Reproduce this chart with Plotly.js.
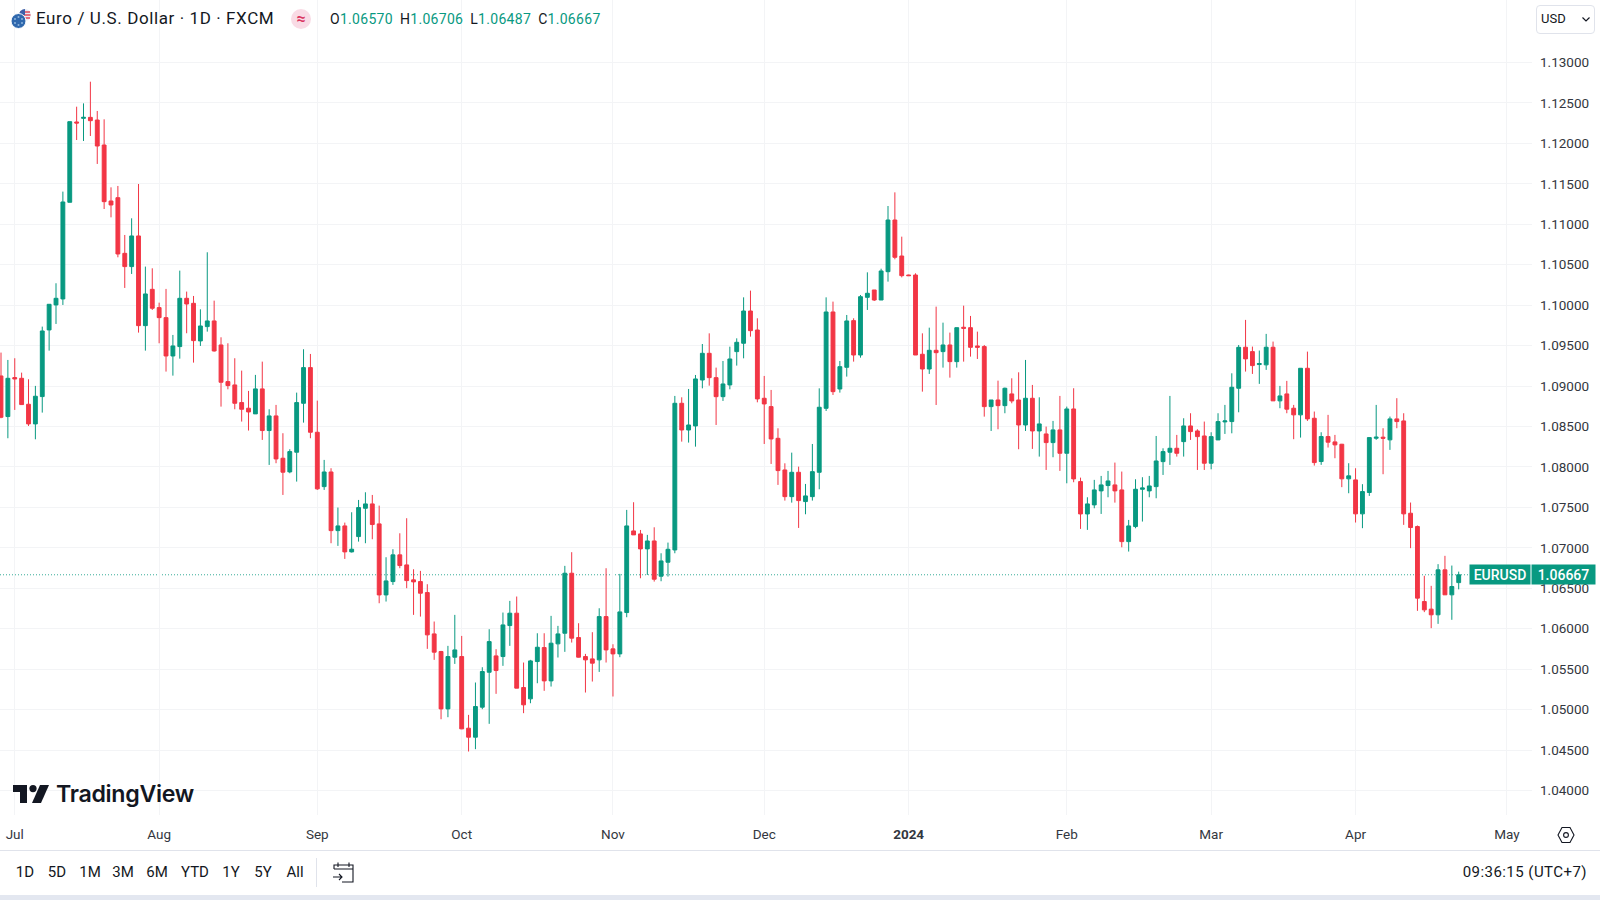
<!DOCTYPE html>
<html>
<head>
<meta charset="utf-8">
<title>Euro / U.S. Dollar</title>
<script src="https://cdn.plot.ly/plotly-3.0.1.min.js"></script>
<style>
    html, body { margin: 0; padding: 0; background: #fff; width: 1600px; height: 900px; overflow: hidden; }
    body { font-family: Roboto, sans-serif; color: #131722; position: relative; }
    #chart { position: absolute; left: 0; top: 0; width: 1600px; height: 900px; }
    .overlay { position: absolute; white-space: nowrap; line-height: 1; }
    .ohlc { letter-spacing: .3px; }
    .ohlc span { color: #089981; margin-right: 7px; }
    .range-btn { position: absolute; top: 865px; font-size: 15px; color: #131722; line-height: 1; transform: translateX(-50%); }
</style>
</head>
<body>
<div id="chart"></div>

<!-- legend row -->
<svg class="overlay" style="left:9px;top:8px" width="24" height="22" viewBox="0 0 24 22">
    <circle cx="16" cy="7" r="6" fill="#e8eaf2"/>
    <path d="M11 4h10M10.5 7h11M11 10h10" stroke="#e0475a" stroke-width="1.4"/>
    <path d="M10 7a6 6 0 0 1 6-6v6z" fill="#3c5fa8"/>
    <circle cx="9.5" cy="13" r="7.5" fill="#2f68ad" stroke="#fff" stroke-width="1"/>
    <g fill="#8fb4dd"><circle cx="9.5" cy="9" r="1"/><circle cx="13" cy="11" r="1"/><circle cx="13" cy="15" r="1"/><circle cx="9.5" cy="17" r="1"/><circle cx="6" cy="15" r="1"/><circle cx="6" cy="11" r="1"/></g>
</svg>
<div class="overlay" style="left:36px;top:10px;font-size:17px;letter-spacing:.6px">Euro / U.S. Dollar · 1D · FXCM</div>
<div class="overlay" style="left:291px;top:9px;width:20px;height:20px;border-radius:10px;background:#f9dbe5;color:#d9345f;font-size:16px;font-weight:700;text-align:center;line-height:19px">≈</div>
<div class="overlay ohlc" style="left:330px;top:12px;font-size:14px">O<span>1.06570</span>H<span>1.06706</span>L<span>1.06487</span>C<span style="margin:0">1.06667</span></div>

<!-- currency dropdown -->
<div class="overlay" style="left:1536px;top:5px;width:57px;height:27px;border:1px solid #e0e3eb;border-radius:4px;background:#fff"></div>
<div class="overlay" style="left:1541px;top:12px;font-size:13px">USD</div>
<svg class="overlay" style="left:1581px;top:16px" width="10" height="7" viewBox="0 0 10 7"><path d="M1.5 1.5L5 5l3.5-3.5" fill="none" stroke="#131722" stroke-width="1.2"/></svg>

<!-- watermark -->
<svg class="overlay" style="left:13px;top:785px" width="36" height="18" viewBox="0 0 36 18">
    <path d="M0 0h14v18H7V7H0z" fill="#131722"/>
    <circle cx="20" cy="3.6" r="3.6" fill="#131722"/>
    <path d="M27 0h9l-8 18h-9z" fill="#131722"/>
</svg>
<div class="overlay" style="left:56px;top:783px;font-family:Inter,sans-serif;font-weight:600;font-size:23.2px;letter-spacing:-.3px">TradingView</div>

<!-- axis settings gear -->
<svg class="overlay" style="left:1556px;top:825px" width="20" height="20" viewBox="0 0 20 20">
    <path d="M6 2.5h8l4 7.5-4 7.5H6L2 10z" fill="none" stroke="#131722" stroke-width="1.1"/>
    <circle cx="10" cy="10" r="2.4" fill="none" stroke="#131722" stroke-width="1.1"/>
</svg>

<!-- bottom toolbar -->
<div class="overlay" style="left:0;top:850px;width:1600px;height:45px;background:#fff;border-top:1px solid #e0e3eb;box-sizing:border-box"></div>
<div class="overlay" style="left:0;top:895px;width:1600px;height:5px;background:#e3e7f0"></div>
<div id="rangeBar"></div>
<div class="overlay" style="left:316px;top:858px;width:1px;height:29px;background:#e0e3eb"></div>
<svg class="overlay" style="left:332px;top:861px" width="23" height="23" viewBox="0 0 23 23">
    <path d="M2 8V4h19v17h-11M2 8h19M6 1.5V6M17 1.5V6M1 16h9M7 13l3 3-3 3" fill="none" stroke="#131722" stroke-width="1.1"/>
</svg>
<div class="overlay" style="right:13px;top:865px;font-size:15px;letter-spacing:.45px">09:36:15 (UTC+7)</div>

<script>
// EUR/USD daily sessions
const opens = [
    1.09125,1.08623,1.09105,1.09096,1.08775,1.08532,1.0887,1.09694,1.10003,1.10077,
    1.11272,1.12265,1.1231,1.12322,1.12289,1.1198,1.11288,1.11329,1.10641,1.10477,
    1.10856,1.09747,1.10196,1.0997,1.09846,1.09372,1.09488,1.10085,1.10023,1.09558,
    1.09735,1.09805,1.09508,1.09055,1.09014,1.08796,1.08726,1.08656,1.08965,1.0845,
    1.08631,1.08108,1.07939,1.08182,1.08787,1.09228,1.08429,1.07757,1.07938,1.07213,
    1.07271,1.0695,1.07139,1.07489,1.07543,1.07296,1.06418,1.06583,1.06913,1.06789,
    1.06604,1.06583,1.06447,1.05936,1.05718,1.05009,1.05648,1.05656,1.0477,1.04659,
    1.0503,1.05462,1.05664,1.05656,1.06039,1.06192,1.05273,1.05133,1.05594,1.05767,
    1.05355,1.05813,1.05944,1.06686,1.05891,1.05656,1.05627,1.05615,1.0615,1.05751,
    1.05689,1.062,1.07209,1.07172,1.06987,1.07085,1.06649,1.06822,1.06974,1.08787,
    1.08457,1.08507,1.09075,1.09405,1.09104,1.08869,1.09014,1.09426,1.09529,1.09928,
    1.09693,1.08849,1.08746,1.08354,1.07963,1.07633,1.07934,1.07572,1.07633,1.07934,
    1.08725,1.09916,1.08964,1.09232,1.09809,1.09384,1.10097,1.10188,1.10064,1.10414,
    1.11053,1.10608,1.10373,1.10373,1.09393,1.09211,1.09442,1.09426,1.09508,1.09302,
    1.09727,1.09722,1.09496,1.09488,1.08746,1.08828,1.08758,1.08903,1.08828,1.08519,
    1.08849,1.08445,1.08408,1.08301,1.08458,1.08169,1.08717,1.07819,1.07419,1.07531,
    1.07704,1.0777,1.07778,1.07716,1.07077,1.07263,1.07724,1.07704,1.07757,1.08066,
    1.08182,1.08231,1.08313,1.08507,1.08445,1.08383,1.08046,1.08334,1.08557,1.08561,
    1.08973,1.0948,1.09426,1.09266,1.09262,1.0948,1.08817,1.08903,1.08726,1.08644,
    1.0922,1.08602,1.08067,1.08376,1.0831,1.08281,1.07853,1.0784,1.0742,1.07684,
    1.08355,1.08368,1.08335,1.08594,1.08569,1.07428,1.07263,1.06336,1.06242,1.06172,
    1.06728,1.06419,1.0657
];
const highs = [
    1.09414,1.09323,1.09344,1.09166,1.09084,1.09002,1.09735,1.10011,1.10271,1.11404,
    1.12269,1.12454,1.12495,1.12763,1.12401,1.12298,1.11457,1.11474,1.10868,1.11074,
    1.11498,1.10477,1.10456,1.10031,1.10201,1.09632,1.10427,1.10168,1.10114,1.09949,
    1.10654,1.10056,1.09603,1.09529,1.09344,1.09191,1.0894,1.09138,1.09302,1.08713,
    1.08767,1.08417,1.08219,1.08919,1.09455,1.09397,1.0882,1.08087,1.07984,1.07498,
    1.07312,1.0744,1.07592,1.07687,1.07654,1.07522,1.06884,1.06983,1.0718,1.07366,
    1.06735,1.06715,1.0655,1.06089,1.05726,1.05788,1.06171,1.05911,1.04935,1.05335,
    1.05524,1.05994,1.05747,1.062,1.06344,1.06398,1.05582,1.05615,1.05944,1.05944,
    1.06159,1.06035,1.06777,1.06946,1.06068,1.05689,1.05957,1.06253,1.06748,1.05808,
    1.06678,1.07469,1.07564,1.07221,1.0716,1.07254,1.06933,1.07065,1.08878,1.08861,
    1.08964,1.09137,1.0952,1.09652,1.09228,1.0931,1.09487,1.0959,1.10097,1.1018,
    1.09838,1.09125,1.08952,1.08478,1.08045,1.08177,1.08004,1.0779,1.08284,1.08972,
    1.10097,1.10044,1.0931,1.09879,1.09838,1.10126,1.10406,1.10188,1.10451,1.11226,
    1.11395,1.10847,1.10377,1.10394,1.09652,1.09722,1.09982,1.09784,1.09661,1.09722,
    1.09994,1.09867,1.09673,1.09508,1.08828,1.09067,1.08981,1.09096,1.0917,1.09323,
    1.09014,1.08861,1.08499,1.08569,1.08878,1.08746,1.08973,1.07868,1.07625,1.0784,
    1.07889,1.07951,1.08054,1.07943,1.07345,1.07848,1.07873,1.07889,1.08383,1.08231,
    1.08878,1.08396,1.08602,1.08664,1.08466,1.08561,1.08429,1.08664,1.08767,1.09158,
    1.09508,1.09818,1.09488,1.09439,1.09645,1.0955,1.09002,1.09064,1.08767,1.0922,
    1.09426,1.08685,1.08429,1.08644,1.08396,1.08285,1.08046,1.07984,1.07787,1.08363,
    1.08767,1.08479,1.08623,1.0885,1.08664,1.0756,1.07276,1.06654,1.0653,1.06798,
    1.06901,1.06781,1.06706
];
const lows = [
    1.08602,1.08355,1.08705,1.08767,1.08507,1.08342,1.08672,1.09438,1.09768,1.10003,
    1.11272,1.12042,1.1203,1.12092,1.11746,1.11189,1.11086,1.10592,1.10213,1.10386,
    1.09661,1.09438,1.09941,1.09529,1.09179,1.09129,1.09339,1.09653,1.0929,1.09496,
    1.09673,1.09426,1.08746,1.0896,1.08713,1.08561,1.0845,1.08656,1.08334,1.08025,
    1.08046,1.07654,1.07922,1.07819,1.08548,1.08355,1.07716,1.07716,1.07057,1.07024,
    1.06863,1.06942,1.07077,1.07057,1.07106,1.06315,1.06336,1.06542,1.06748,1.06501,
    1.06171,1.0615,1.05751,1.05615,1.04881,1.04906,1.05565,1.04758,1.04482,1.04511,
    1.05005,1.04824,1.05195,1.05541,1.05788,1.05265,1.04956,1.05079,1.05326,1.05232,
    1.05285,1.05644,1.05714,1.05829,1.05644,1.05211,1.05347,1.05466,1.05582,1.05162,
    1.05648,1.06142,1.0716,1.06624,1.06665,1.06583,1.06587,1.06645,1.06933,1.08313,
    1.08301,1.08251,1.08972,1.09005,1.08519,1.08816,1.0896,1.09253,1.09343,1.09611,
    1.08799,1.08284,1.08037,1.07778,1.07584,1.07559,1.07246,1.07415,1.07584,1.07724,
    1.08692,1.0889,1.08919,1.09117,1.09302,1.09351,1.09941,1.10052,1.10064,1.10291,
    1.10567,1.10344,1.10365,1.09384,1.08931,1.0915,1.08766,1.09228,1.09104,1.09228,
    1.09302,1.09364,1.09335,1.08622,1.08445,1.08466,1.08664,1.08787,1.08219,1.08445,
    1.08223,1.08128,1.07963,1.0812,1.07951,1.07798,1.07811,1.07234,1.07222,1.07489,
    1.07419,1.07625,1.07559,1.07007,1.06954,1.07242,1.07325,1.07625,1.07613,1.07901,
    1.08025,1.08128,1.08128,1.08334,1.07963,1.07963,1.07971,1.08334,1.08408,1.08416,
    1.08676,1.09179,1.0915,1.09027,1.092,1.08817,1.08726,1.08664,1.08343,1.08363,
    1.08569,1.08017,1.08026,1.0824,1.08108,1.0775,1.07675,1.07313,1.07243,1.07642,
    1.08335,1.0791,1.08211,1.08479,1.07284,1.06996,1.06221,1.06205,1.06007,1.0606,
    1.06419,1.0611,1.06487
];
const closes = [
    1.08614,1.09096,1.09088,1.08771,1.08532,1.08874,1.09681,1.10011,1.10085,1.11276,
    1.12269,1.12252,1.12322,1.12281,1.11968,1.1128,1.11239,1.10633,1.10477,1.10856,
    1.09747,1.10139,1.09962,1.09846,1.09372,1.09496,1.10085,1.10015,1.09562,1.09743,
    1.09805,1.09434,1.09047,1.09006,1.08787,1.08713,1.0868,1.08965,1.0845,1.08631,
    1.08099,1.07935,1.0819,1.08796,1.09228,1.08429,1.07729,1.07938,1.07213,1.07271,
    1.0695,1.06983,1.07498,1.07543,1.07288,1.06418,1.06591,1.06913,1.06781,1.06595,
    1.06579,1.06439,1.05924,1.0571,1.05009,1.05656,1.05738,1.04762,1.04659,1.05038,
    1.05471,1.05841,1.05483,1.06047,1.06192,1.05265,1.05059,1.05602,1.05771,1.05355,
    1.05821,1.05936,1.06686,1.05883,1.05648,1.05615,1.05574,1.0615,1.05738,1.05689,
    1.06208,1.07271,1.0716,1.06987,1.07085,1.06612,1.06838,1.06982,1.08787,1.08457,
    1.08519,1.09088,1.09405,1.09104,1.08869,1.09026,1.09335,1.09541,1.09928,1.09685,
    1.08841,1.08779,1.08346,1.07955,1.07633,1.07934,1.07584,1.07642,1.07942,1.08738,
    1.09916,1.08931,1.0924,1.09805,1.09384,1.10105,1.10147,1.10064,1.10423,1.11053,
    1.10592,1.10365,1.10365,1.09384,1.09211,1.09442,1.09413,1.09508,1.09302,1.09722,
    1.09714,1.09479,1.09479,1.08746,1.08828,1.08758,1.08973,1.08816,1.08519,1.08849,
    1.08445,1.08532,1.08301,1.08458,1.08169,1.08717,1.07852,1.07419,1.07543,1.07716,
    1.07778,1.07827,1.07704,1.07077,1.07271,1.07724,1.07741,1.07765,1.08074,1.0819,
    1.08231,1.08169,1.08507,1.08437,1.08375,1.08046,1.08375,1.08561,1.08569,1.08985,
    1.09479,1.09336,1.09253,1.09278,1.0948,1.08817,1.08878,1.08714,1.08644,1.0922,
    1.08594,1.08054,1.08376,1.08306,1.08273,1.07853,1.0789,1.0742,1.07696,1.08363,
    1.08368,1.08355,1.08594,1.08561,1.0742,1.07251,1.06378,1.06233,1.06172,1.06728,
    1.06419,1.06522,1.06667
];

// one bar per trading session, months are marked at their first session
const sessions = opens.map((_, i) => i);
const monthTickBars = [2, 23, 46, 67, 89, 111, 132, 155, 176, 197, 219];
const monthTickLabels = ['Jul', 'Aug', 'Sep', 'Oct', 'Nov', 'Dec', '<b>2024</b>', 'Feb', 'Mar', 'Apr', 'May'];
const priceTicks = [1.04, 1.045, 1.05, 1.055, 1.06, 1.065, 1.07, 1.075, 1.08, 1.085, 1.09, 1.095,
    1.10, 1.105, 1.11, 1.115, 1.12, 1.125, 1.13];
const lastPrice = 1.06667;
const symbolName = 'EURUSD';
const rangeLabels = ['1D', '5D', '1M', '3M', '6M', 'YTD', '1Y', '5Y', 'All'];
const rangeLabelCenters = [25, 57, 90, 123, 157, 195, 231, 263, 295];

const UP = '#089981';
const DOWN = '#F23645';
const AXIS_FONT = { family: 'Roboto, sans-serif', size: 13.5, color: '#333740' };
const TAG_FONT = { family: 'Roboto, sans-serif', size: 14, weight: 500, color: '#FFFFFF' };

const trace = {
    type: 'candlestick',
    x: sessions,
    open: opens,
    high: highs,
    low: lows,
    close: closes,
    whiskerwidth: 0,
    increasing: { line: { color: UP, width: 1 }, fillcolor: UP },
    decreasing: { line: { color: DOWN, width: 1 }, fillcolor: DOWN },
    hoverinfo: 'skip',
    showlegend: false
};

const layout = {
    width: 1600,
    height: 900,
    margin: { l: 0, r: 68, t: 0, b: 85 },
    paper_bgcolor: 'rgba(0,0,0,0)',
    plot_bgcolor: '#FFFFFF',
    showlegend: false,
    dragmode: false,
    boxgap: 0.2,
    xaxis: {
        type: 'linear',
        range: [-0.145, 222.66],
        rangeslider: { visible: false },
        tickmode: 'array',
        tickvals: monthTickBars,
        ticktext: monthTickLabels,
        tickfont: AXIS_FONT,
        ticks: '',
        ticklabelstandoff: 9,
        showgrid: true,
        gridcolor: '#F3F4F6',
        gridwidth: 1,
        zeroline: false,
        showline: false
    },
    yaxis: {
        side: 'right',
        range: [1.03697, 1.13773],
        tickmode: 'array',
        tickvals: priceTicks,
        tickformat: '.5f',
        tickfont: AXIS_FONT,
        ticks: '',
        ticklabelstandoff: 7,
        showgrid: true,
        gridcolor: '#F3F4F6',
        gridwidth: 1,
        zeroline: false,
        showline: false
    },
    shapes: [{
        type: 'line',
        layer: 'below',
        xref: 'paper',
        x0: 0,
        x1: 0.96,
        yref: 'y',
        y0: lastPrice,
        y1: lastPrice,
        opacity: 0.8,
        line: { color: UP, width: 1, dash: '1px,2px' }
    }],
    annotations: [
        {
            xref: 'paper', x: 1500 / 1532, xanchor: 'center', yref: 'y', y: lastPrice,
            text: symbolName, showarrow: false, width: 60, height: 19, borderpad: 0,
            bgcolor: UP, font: TAG_FONT
        },
        {
            xref: 'paper', x: 1563 / 1532, xanchor: 'center', yref: 'y', y: lastPrice,
            text: lastPrice.toFixed(5), showarrow: false, width: 63, height: 19, borderpad: 0,
            bgcolor: UP, font: TAG_FONT
        }
    ]
};

Plotly.newPlot('chart', [trace], layout, { displayModeBar: false, staticPlot: true });

// range buttons under the chart
const rangeBar = document.getElementById('rangeBar');
rangeLabels.forEach((label, i) => {
    const btn = document.createElement('div');
    btn.className = 'range-btn';
    btn.style.left = `${rangeLabelCenters[i]}px`;
    btn.textContent = label;
    rangeBar.appendChild(btn);
});
</script>
</body>
</html>
